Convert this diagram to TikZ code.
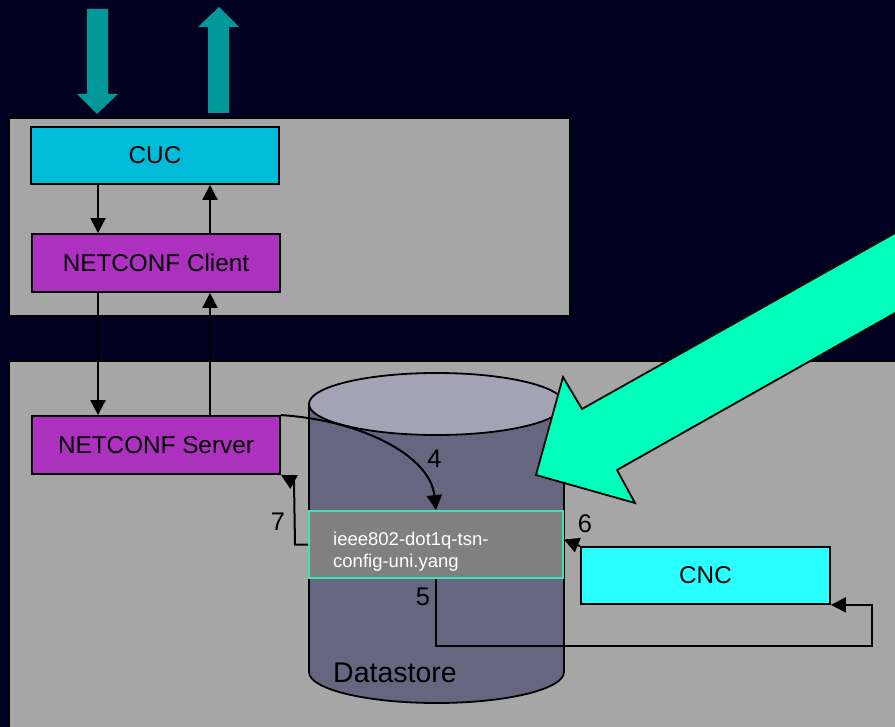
\documentclass[tikz,border=0pt]{standalone}
\usepackage{fontspec}
\setmainfont{Liberation Sans}
\usetikzlibrary{arrows.meta}

\definecolor{bgnavy}{RGB}{0,0,32}
\definecolor{panelgray}{RGB}{166,166,166}
\definecolor{cucblue}{RGB}{0,188,216}
\definecolor{ncpurple}{RGB}{173,49,191}
\definecolor{cnccyan}{RGB}{41,255,255}
\definecolor{flowteal}{RGB}{0,153,153}
\definecolor{mint}{RGB}{0,255,187}
\definecolor{dsbody}{RGB}{102,102,128}
\definecolor{dstop}{RGB}{163,163,181}
\definecolor{yangfill}{RGB}{128,128,128}
\definecolor{yangedge}{RGB}{60,230,180}

\tikzset{
  panel/.style={fill=panelgray, draw=black, line width=1.5pt},
  blockbox/.style={draw=black, line width=1.8pt, inner sep=0pt,
    font=\fontsize{24.3pt}{28pt}\selectfont},
  conn/.style={draw=black, line width=2pt,
    -{Triangle[length=15pt,width=15pt]}},
  steplabel/.style={inner sep=0pt, font=\fontsize{25.5pt}{30pt}\selectfont}
}

\begin{document}
\begin{tikzpicture}[x=1pt,y=-1pt]
  % canvas
  \fill[bgnavy] (0,0) rectangle (895,727);
  \useasboundingbox (0,0) rectangle (895,727);
  \clip (0,0) rectangle (895,727);

  % panels
  \draw[panel] (9,118) rectangle (570,316);
  \draw[panel] (9,361) rectangle (910,740);

  % external request / response arrows
  \fill[flowteal] (87,9) -- (108,9) -- (108,94) -- (118,94) -- (97,114)
    -- (77,94) -- (87,94) -- cycle;
  \fill[flowteal] (208,113) -- (229,113) -- (229,27) -- (239,27) -- (219,7)
    -- (198,27) -- (208,27) -- cycle;

  % datastore cylinder
  \draw[fill=dsbody, line width=1.8pt] (309,404) -- (309,672)
    arc[start angle=180, end angle=360, x radius=127.5pt, y radius=31pt]
    -- (564,404) -- cycle;
  \draw[fill=dstop, line width=1.8pt] (436.5,404)
    ellipse[x radius=127.5pt, y radius=31pt];
  \node[anchor=base west, inner sep=0pt, font=\fontsize{28.5pt}{32pt}\selectfont]
    (dslabel) at (333,682) {Datastore};

  % blocks
  \node[blockbox, fill=cucblue, minimum width=248pt, minimum height=57pt]
    (cuc) at (155,155.5) {CUC};
  \node[blockbox, fill=ncpurple, minimum width=248pt, minimum height=58pt]
    (client) at (156,263) {NETCONF Client};
  \node[blockbox, fill=ncpurple, minimum width=248pt, minimum height=58pt]
    (server) at (156,445) {NETCONF Server};
  \node[blockbox, fill=cnccyan, minimum width=249pt, minimum height=57pt]
    (cnc) at (705.5,575.5) {CNC};
  \node[draw=yangedge, fill=yangfill, line width=1.8pt, inner sep=0pt,
    minimum width=254pt, minimum height=67pt] (yang) at (436,544.5) {};
  \node[anchor=north west, inner sep=0pt, align=left, text=white,
    font=\fontsize{18.5pt}{22pt}\selectfont] (yangtxt) at (333,531.5)
    {ieee802-dot1q-tsn-\\config-uni.yang};

  % lanes for the vertical links
  \coordinate (lanel) at (98,0);
  \coordinate (laner) at (210,0);

  % client / server exchange
  \draw[conn] (cuc.south -| lanel) -- (client.north -| lanel);
  \draw[conn] (client.north -| laner) -- (cuc.south -| laner);
  \draw[conn] (client.south -| lanel) -- (server.north -| lanel);
  \draw[conn] (server.north -| laner) -- (client.south -| laner);

  % numbered steps
  \draw[conn] (server.north east) .. controls (360,420) and (430,455) .. (yang.north);
  \draw[conn] (yang.south) |- (872,646) |- (cnc.south east);
  \draw[conn] (cnc.north west) -- ([yshift=5pt]yang.east);
  \draw[conn] (yang.west) -- (295,544.5) -- (294,482) -- (server.south east);

  \node[steplabel] (n4) at (434.5,458.5) {4};
  \node[steplabel] (n5) at (423,597) {5};
  \node[steplabel] (n6) at (585,524) {6};
  \node[steplabel] (n7) at (278,522) {7};

  % highlight arrow
  \draw[fill=mint, line width=1.8pt, line join=miter]
    (920,219) -- (582,409) -- (563,377) -- (536,475) -- (635,503)
    -- (617,470) -- (920,299) -- cycle;
\end{tikzpicture}
\end{document}
